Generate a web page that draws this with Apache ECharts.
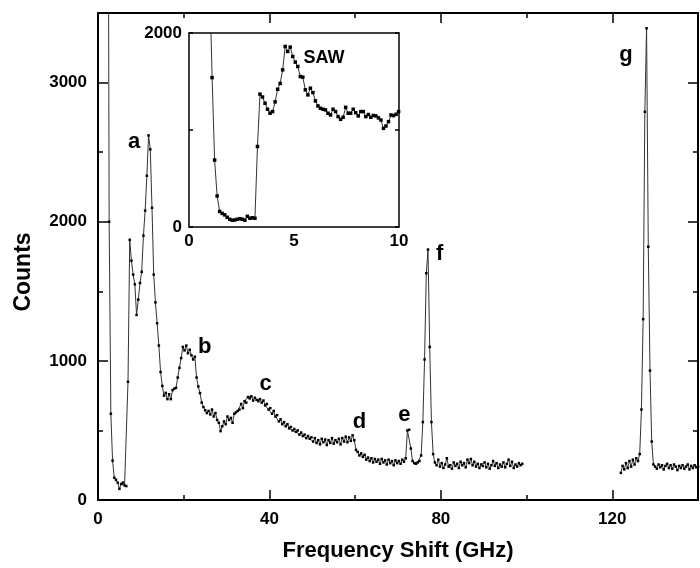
<!DOCTYPE html>
<html>
<head>
<meta charset="utf-8">
<script src="https://cdn.jsdelivr.net/npm/echarts@6/dist/echarts.min.js"></script>
<style>
  html, body { margin: 0; padding: 0; background: #fff; }
  #chart { width: 700px; height: 568px; }
</style>
</head>
<body>
<div id="chart"></div>
<script>
// main spectrum, channels from 2.2 GHz every 0.4 GHz (first point is off-scale)
const mainStart = 2.2;
const mainStep = 0.4;
const mainCounts = [
  7000, 2000, 620, 283, 160, 145, 125, 80, 115, 125,
  105, 100, 850, 1870, 1720, 1620, 1550, 1330, 1440, 1560,
  1640, 1900, 2080, 2330, 2620, 2520, 2100, 1620, 1420, 1270,
  1110, 920, 820, 750, 770, 725, 760, 725, 790, 800,
  806, 880, 950, 1020, 1100, 1075, 1110, 1055, 1080, 1040,
  1010, 1030, 880, 816, 768, 700, 668, 645, 625, 640,
  615, 650, 600, 625, 575, 555, 495, 530, 565, 545,
  600, 575, 590, 555, 620, 630, 640, 650, 690, 660,
  710, 700, 740, 730, 745, 715, 735, 720, 710, 725,
  700, 715, 680, 690, 650, 660, 620, 640, 600, 610,
  565, 580, 545, 560, 530, 545, 515, 525, 500, 510,
  490, 500, 470, 485, 460, 470, 445, 460, 440, 450,
  420, 445, 410, 430, 400, 440, 415, 435, 395, 430,
  410, 445, 405, 430, 415, 440, 400, 445, 420, 455,
  415, 450, 425, 465, 430, 360, 345, 320, 335, 310,
  325, 290, 305, 280, 300, 270, 295, 275, 290, 260,
  295, 270, 285, 255, 290, 265, 280, 250, 285, 265,
  280, 260, 290, 275, 300, 500, 505, 370, 280, 265,
  260, 270, 280, 320, 560, 1010, 1630, 1800, 1100, 560,
  330, 270, 250, 290, 240, 265, 230, 255, 300, 240,
  250, 225, 270, 245, 260, 230, 275, 250, 265, 235,
  290, 265, 295, 250, 275, 240, 260, 230, 255, 245,
  270, 235, 260, 225, 250, 280, 245, 265, 230, 255,
  240, 270, 235, 260, 290, 245, 275, 230, 255, 240,
  265, 250, 260
];

// second scan window around peak g
const tailStart = 122.0;
const tailStep = 0.4;
const tailCounts = [
  195, 245, 220, 265, 230, 280, 240, 290, 255, 300,
  280, 330, 650, 1300, 2790, 3390, 1820, 930, 420, 255,
  240, 225, 255, 235, 250, 220, 245, 260, 230, 250,
  225, 255, 240, 215, 245, 230, 250, 225, 240, 255,
  220, 245, 230, 250, 235, 240
];

// inset (SAW region), from 0.98 GHz every 0.12 GHz
const insetStart = 0.98;
const insetStep = 0.12;
const insetCounts = [
  2600, 1540, 690, 320, 160, 140, 125, 100, 80, 70,
  72, 80, 86, 80, 70, 110, 90, 95, 90, 830,
  1370, 1340, 1276, 1214, 1173, 1190, 1290, 1420, 1480, 1620,
  1861, 1810, 1855, 1758, 1700, 1655, 1551, 1545, 1414, 1362,
  1431, 1386, 1300, 1248, 1224, 1214, 1207, 1173, 1155, 1214,
  1190, 1138, 1110, 1131, 1234, 1173, 1173, 1214, 1178, 1145,
  1190, 1190, 1138, 1160, 1131, 1150, 1145, 1125, 1103, 1017,
  1041, 1086, 1155, 1148, 1162, 1190
];

const peakNames = ['a', 'b', 'c', 'd', 'e', 'f', 'g'];
const peakSpots = [[8.4, 2570], [24.9, 1100], [39.1, 835], [61.0, 563], [71.5, 613], [79.7, 1767], [123.2, 3200]];

const FONT = '"Liberation Sans", Arial, sans-serif';

function toPairs(start, step, vals) {
  return vals.map((v, i) => [+(start + i * step).toFixed(2), v]);
}

const lineStyle = { color: '#333', width: 1 };
const dot = { color: '#000' };

function axisX(grid, pos, min, max, interval, tickLen, showLine, labels) {
  return {
    type: 'value', gridIndex: grid, position: pos, min: min, max: max, interval: interval,
    splitLine: { show: false },
    axisLine: { show: showLine, onZero: false, lineStyle: { color: '#000', width: grid === 0 ? 2 : 1.5 } },
    axisTick: { show: tickLen > 0, inside: true, length: tickLen, lineStyle: { color: '#000', width: 1.5 } },
    axisLabel: labels ? Object.assign({
      color: '#000', fontFamily: FONT, fontWeight: 'bold', fontSize: 17, showMaxLabel: false,
      formatter: v => String(v)
    }, labels) : { show: false }
  };
}

const option = {
  animation: false,
  backgroundColor: '#fff',
  grid: [
    { left: 98, top: 13, right: 2, height: 487 },
    { left: 189, top: 33, width: 210, height: 194, show: true, backgroundColor: '#fff', borderWidth: 0 }
  ],
  xAxis: [
    Object.assign(axisX(0, 'bottom', 0, 140, 40, 10, true, { margin: 11 }), {
      name: 'Frequency Shift (GHz)', nameLocation: 'middle', nameGap: 40,
      nameTextStyle: { color: '#000', fontFamily: FONT, fontWeight: 'bold', fontSize: 22 }
    }),
    axisX(0, 'bottom', 0, 140, 20, 5, false, null),
    axisX(0, 'top', 0, 140, 40, 10, true, null),
    axisX(0, 'top', 0, 140, 20, 5, false, null),
    axisX(1, 'bottom', 0, 10, 5, 0, true, { margin: 6, showMaxLabel: true }),
    axisX(1, 'top', 0, 10, 5, 0, true, null)
  ],
  yAxis: [
    axisX(0, 'left', 0, 3500, 1000, 10, true, { margin: 11 }),
    axisX(0, 'left', 0, 3500, 500, 5, false, null),
    axisX(0, 'right', 0, 3500, 1000, 10, true, null),
    axisX(0, 'right', 0, 3500, 500, 5, false, null),
    axisX(1, 'left', 0, 2000, 1000, 4, true, { margin: 7, showMaxLabel: true, formatter: v => (v === 1000 ? '' : String(v)) }),
    axisX(1, 'right', 0, 2000, 1000, 4, true, null)
  ],
  graphic: [{
    type: 'text', x: 24, y: 272, rotation: Math.PI / 2,
    style: { text: 'Counts', fill: '#000', font: 'bold 23px ' + FONT, align: 'center', verticalAlign: 'middle' }
  }],
  series: [
    {
      type: 'line', xAxisIndex: 0, yAxisIndex: 0,
      data: toPairs(mainStart, mainStep, mainCounts),
      symbol: 'rect', symbolSize: 2.5, showAllSymbol: true,
      lineStyle: lineStyle, itemStyle: dot,
      markPoint: {
        symbol: 'circle', symbolSize: 0, silent: true,
        label: { show: true, position: 'inside', formatter: '{b}', color: '#000', fontFamily: FONT, fontWeight: 'bold', fontSize: 22 },
        data: peakNames.map((n, i) => ({ name: n, coord: peakSpots[i] }))
      }
    },
    {
      type: 'line', xAxisIndex: 0, yAxisIndex: 0,
      data: toPairs(tailStart, tailStep, tailCounts),
      symbol: 'rect', symbolSize: 2.5, showAllSymbol: true,
      lineStyle: lineStyle, itemStyle: dot
    },
    {
      type: 'line', xAxisIndex: 4, yAxisIndex: 4,
      data: toPairs(insetStart, insetStep, insetCounts),
      symbol: 'rect', symbolSize: 3.5, showAllSymbol: true,
      lineStyle: lineStyle, itemStyle: dot,
      markPoint: {
        symbol: 'circle', symbolSize: 0, silent: true,
        label: { show: true, position: 'inside', formatter: '{b}', color: '#000', fontFamily: FONT, fontWeight: 'bold', fontSize: 18 },
        data: [{ name: 'SAW', coord: [6.43, 1745] }]
      }
    }
  ]
};

const chart = echarts.init(document.getElementById('chart'));
chart.setOption(option);
</script>
</body>
</html>
